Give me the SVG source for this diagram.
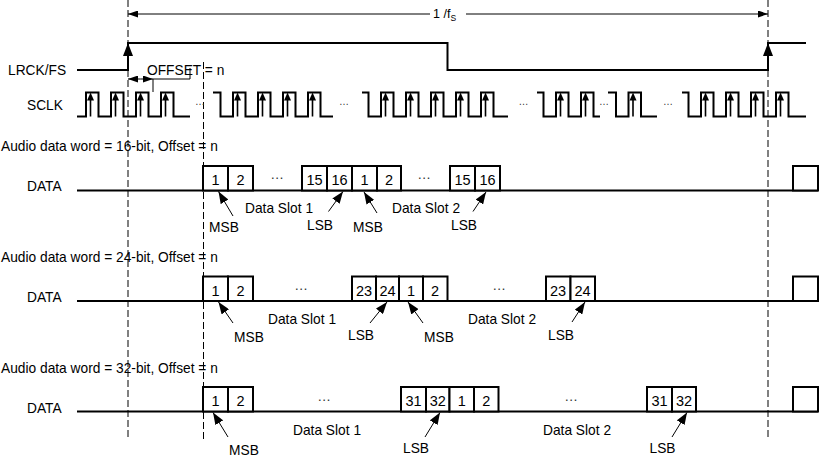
<svg xmlns="http://www.w3.org/2000/svg" width="820" height="460" viewBox="0 0 820 460">
<defs>
<style>
.t{font-family:"Liberation Sans",Arial,sans-serif;font-size:13.75px;fill:#000}
.d{font-size:14.5px;text-anchor:middle}
.c{text-anchor:middle}
.e{font-family:"Liberation Sans",Arial,sans-serif;fill:#333;text-anchor:middle}
.w{fill:none;stroke:#000;stroke-width:2;stroke-linejoin:miter}
.dash{fill:none;stroke:#000;stroke-width:1;stroke-dasharray:7 3}
.thin{fill:none;stroke:#000;stroke-width:1}
.box{fill:#fff;stroke:#000;stroke-width:2}
.ptr{fill:none;stroke:#000;stroke-width:1;marker-end:url(#arr)}
.dim{fill:none;stroke:#000;stroke-width:1;marker-end:url(#dimh)}
</style>
<marker id="arr" markerUnits="userSpaceOnUse" markerWidth="12" markerHeight="9" refX="12" refY="4.5" orient="auto" viewBox="0 0 12 9"><path d="M0,0 L12,4.5 L0,9 z" fill="#000"/></marker>
<marker id="dimh" markerUnits="userSpaceOnUse" markerWidth="10" markerHeight="7" refX="10" refY="3.5" orient="auto" viewBox="0 0 10 7"><path d="M0,0 L10,3.5 L0,7 z" fill="#000"/></marker>
<g id="sa"><path d="M0,0 L-3.5,8 L3.5,8 z" fill="#000"/><rect x="-0.8" y="7" width="1.6" height="17" fill="#000"/></g>
<path id="la" d="M0,0 L-5,13 L5,13 z" fill="#000"/>
</defs>
<rect width="820" height="460" fill="#fff"/>

<g id="guides">
<path class="dash" d="M128,0 V440"/>
<path class="dash" d="M203.5,62 V440"/>
<path class="dash" d="M768,0 V440"/>
</g>

<g id="period">
<path class="dim" d="M430,14 H128"/>
<path class="dim" d="M466,14 H768"/>
<text class="t" x="433" y="18" style="font-size:12.5px">1 /f<tspan style="font-size:8.5px" dy="3">S</tspan></text>
</g>

<g id="lrck">
<text class="t" x="8" y="75">LRCK/FS</text>
<path class="w" d="M77,70 H128 V43 H447.5 V70 H768 V43 H806"/>
<use href="#la" x="128" y="43"/>
<use href="#la" x="768" y="43"/>
</g>

<g id="offset">
<text class="t" x="147" y="75">OFFSET = n</text>
<path class="dim" d="M140.5,79 H128"/>
<path class="dim" d="M140.5,79 H153"/>
<path class="thin" d="M153,79 V92 M153,79 H190 V68"/>
</g>

<g id="sclk">
<text class="t" x="27" y="110">SCLK</text>
<path class="w" d="M77,116.5 H86 V92.5 H98.5 V116.5 H111 V92.5 H123.5 V116.5 H136 V92.5 H148.5 V116.5 H161 V92.5 H173.5 V116.5 H190"/>
<path class="w" d="M213,92.5 H220.5 V116.5 H233 V92.5 H245.5 V116.5 H258 V92.5 H270.5 V116.5 H283 V92.5 H295.5 V116.5 H308 V92.5 H320.5 V116.5 H333"/>
<path class="w" d="M362,92.5 H368.5 V116.5 H381 V92.5 H393.5 V116.5 H406 V92.5 H418.5 V116.5 H431 V92.5 H443.5 V116.5 H456 V92.5 H468.5 V116.5 H481 V92.5 H493.5 V116.5 H508"/>
<path class="w" d="M537,92.5 H543.5 V116.5 H556 V92.5 H568.5 V116.5 H581 V92.5 H593.5 V116.5 H600"/>
<path class="w" d="M608,92.5 H616 V116.5 H628.5 V92.5 H641 V116.5 H657"/>
<path class="w" d="M682,92.5 H688.5 V116.5 H701 V92.5 H713.5 V116.5 H726 V92.5 H738.5 V116.5 H751 V92.5 H763.5 V116.5 H776 V92.5 H788.5 V116.5 H806"/>
<use href="#sa" x="90.5" y="92.5"/><use href="#sa" x="115.5" y="92.5"/><use href="#sa" x="140.5" y="92.5"/><use href="#sa" x="165.5" y="92.5"/>
<use href="#sa" x="237.5" y="92.5"/><use href="#sa" x="262.5" y="92.5"/><use href="#sa" x="287.5" y="92.5"/><use href="#sa" x="312.5" y="92.5"/>
<use href="#sa" x="385.5" y="92.5"/><use href="#sa" x="410.5" y="92.5"/><use href="#sa" x="435.5" y="92.5"/><use href="#sa" x="460.5" y="92.5"/><use href="#sa" x="485.5" y="92.5"/>
<use href="#sa" x="560.5" y="92.5"/><use href="#sa" x="585.5" y="92.5"/>
<use href="#sa" x="633" y="92.5"/>
<use href="#sa" x="705.5" y="92.5"/><use href="#sa" x="730.5" y="92.5"/><use href="#sa" x="755.5" y="92.5"/><use href="#sa" x="780.5" y="92.5"/>
<text class="e" x="200" y="105" style="font-size:10px">…</text>
<text class="e" x="344" y="105" style="font-size:10px">…</text>
<text class="e" x="523.5" y="105" style="font-size:10px">…</text>
<text class="e" x="604" y="105" style="font-size:10px">…</text>
<text class="e" x="668" y="105" style="font-size:10px">…</text>
</g>

<g id="row16">
<text class="t" x="1" y="151">Audio data word = 16-bit, Offset = n</text>
<text class="t" x="27" y="191">DATA</text>
<path class="w" d="M77,190.5 H818"/>
<rect class="box" x="203" y="166" width="25" height="24.5"/>
<rect class="box" x="228" y="166" width="25" height="24.5"/>
<rect class="box" x="302" y="166" width="25" height="24.5"/>
<rect class="box" x="327" y="166" width="25" height="24.5"/>
<rect class="box" x="352" y="166" width="25" height="24.5"/>
<rect class="box" x="377" y="166" width="24" height="24.5"/>
<rect class="box" x="450" y="166" width="25" height="24.5"/>
<rect class="box" x="475" y="166" width="25" height="24.5"/>
<rect class="box" x="793" y="166" width="25" height="24.5"/>
<text class="t d" x="215.5" y="185">1</text>
<text class="t d" x="240.5" y="185">2</text>
<text class="t d" x="314.5" y="185">15</text>
<text class="t d" x="339.5" y="185">16</text>
<text class="t d" x="364.5" y="185">1</text>
<text class="t d" x="389" y="185">2</text>
<text class="t d" x="462.5" y="185">15</text>
<text class="t d" x="487.5" y="185">16</text>
<text class="e" x="277" y="179" style="font-size:13.75px">…</text>
<text class="e" x="424" y="179" style="font-size:13.75px">…</text>
<text class="t" x="245" y="213">Data Slot 1</text>
<text class="t" x="392" y="213">Data Slot 2</text>
<text class="t c" x="224" y="232">MSB</text>
<text class="t c" x="320" y="230">LSB</text>
<text class="t c" x="368" y="232">MSB</text>
<text class="t c" x="464" y="230">LSB</text>
</g>

<g id="row24">
<text class="t" x="1" y="262">Audio data word = 24-bit, Offset = n</text>
<text class="t" x="27" y="301.5">DATA</text>
<path class="w" d="M77,301 H818"/>
<rect class="box" x="203" y="276.5" width="25" height="24.5"/>
<rect class="box" x="228" y="276.5" width="25" height="24.5"/>
<rect class="box" x="352" y="276.5" width="24" height="24.5"/>
<rect class="box" x="376" y="276.5" width="23" height="24.5"/>
<rect class="box" x="399" y="276.5" width="24" height="24.5"/>
<rect class="box" x="423" y="276.5" width="24.5" height="24.5"/>
<rect class="box" x="546" y="276.5" width="24.5" height="24.5"/>
<rect class="box" x="570.5" y="276.5" width="24.5" height="24.5"/>
<rect class="box" x="793" y="276.5" width="25" height="24.5"/>
<text class="t d" x="215.5" y="295.5">1</text>
<text class="t d" x="240.5" y="295.5">2</text>
<text class="t d" x="364" y="295.5">23</text>
<text class="t d" x="387.5" y="295.5">24</text>
<text class="t d" x="411" y="295.5">1</text>
<text class="t d" x="435" y="295.5">2</text>
<text class="t d" x="558" y="295.5">23</text>
<text class="t d" x="582.5" y="295.5">24</text>
<text class="e" x="301" y="290" style="font-size:13.75px">…</text>
<text class="e" x="499" y="290" style="font-size:13.75px">…</text>
<text class="t" x="268" y="323.5">Data Slot 1</text>
<text class="t" x="468" y="323.5">Data Slot 2</text>
<text class="t c" x="249" y="342">MSB</text>
<text class="t c" x="361" y="340">LSB</text>
<text class="t c" x="439" y="342">MSB</text>
<text class="t c" x="561" y="340">LSB</text>
</g>

<g id="row32">
<text class="t" x="1" y="373">Audio data word = 32-bit, Offset = n</text>
<text class="t" x="27" y="413">DATA</text>
<path class="w" d="M77,411.5 H818"/>
<rect class="box" x="203" y="387" width="25" height="24.5"/>
<rect class="box" x="228" y="387" width="25" height="24.5"/>
<rect class="box" x="401" y="387" width="25" height="24.5"/>
<rect class="box" x="426" y="387" width="23.5" height="24.5"/>
<rect class="box" x="449.5" y="387" width="24.5" height="24.5"/>
<rect class="box" x="474" y="387" width="24.5" height="24.5"/>
<rect class="box" x="647" y="387" width="25" height="24.5"/>
<rect class="box" x="672" y="387" width="24" height="24.5"/>
<rect class="box" x="793" y="387" width="25" height="24.5"/>
<text class="t d" x="215.5" y="406">1</text>
<text class="t d" x="240.5" y="406">2</text>
<text class="t d" x="413.5" y="406">31</text>
<text class="t d" x="437.75" y="406">32</text>
<text class="t d" x="461.75" y="406">1</text>
<text class="t d" x="486.25" y="406">2</text>
<text class="t d" x="659.5" y="406">31</text>
<text class="t d" x="684" y="406">32</text>
<text class="e" x="324" y="400.5" style="font-size:13.75px">…</text>
<text class="e" x="571" y="400.5" style="font-size:13.75px">…</text>
<text class="t" x="293" y="435">Data Slot 1</text>
<text class="t" x="543" y="435">Data Slot 2</text>
<text class="t c" x="244" y="455">MSB</text>
<text class="t c" x="416" y="453">LSB</text>
<text class="t c" x="662.5" y="453">LSB</text>
</g>

<g id="connectors">
<path class="ptr" d="M233,216 L218.5,191.5"/>
<path class="ptr" d="M328.5,211.5 L343,191.5"/>
<path class="ptr" d="M377,213 L364,192"/>
<path class="ptr" d="M473,211.5 L486,192"/>
<path class="ptr" d="M233,323 L218.5,302"/>
<path class="ptr" d="M370,323 L387,302"/>
<path class="ptr" d="M423,323 L408,302"/>
<path class="ptr" d="M572,322 L585,302"/>
<path class="ptr" d="M228,437 L213,412.5"/>
<path class="ptr" d="M425,437 L440,412.5"/>
<path class="ptr" d="M672,437 L687,412.5"/>
</g>
</svg>
